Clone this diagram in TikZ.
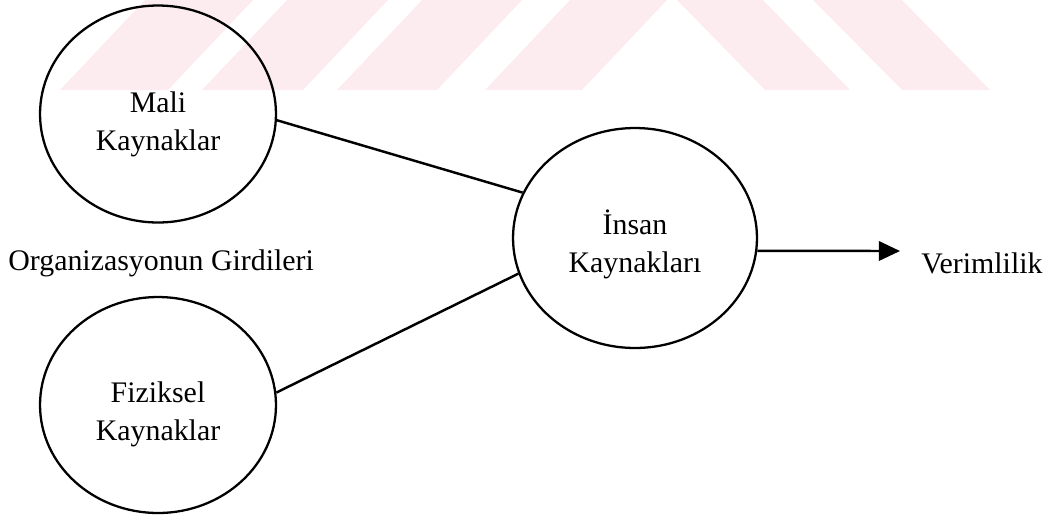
\documentclass[tikz,border=0pt]{standalone}
\usepackage{fontspec}
\setmainfont{Liberation Serif}
\usetikzlibrary{shapes.geometric,arrows.meta}
\definecolor{filigran}{RGB}{252,236,239}
\begin{document}
\begin{tikzpicture}[x=0.02cm,y=-0.02cm,
	kaynak/.style={draw,ellipse,line width=1.3pt,inner sep=0pt},
	yazi/.style={align=center,font=\fontsize{17}{21.6}\selectfont,inner sep=0pt},
	cizgi/.style={line width=1.4pt}]
\useasboundingbox (0,0) rectangle (1064,515);
		%Filigran
	\fill[filigran] (145,0) -- (253,0) -- (168,90) -- (60,90) -- cycle;
	\fill[filigran] (287,0) -- (388,0) -- (303,90) -- (202,90) -- cycle;
	\fill[filigran] (422,0) -- (522,0) -- (437,90) -- (337,90) -- cycle;
	\fill[filigran] (570,0) -- (667,0) -- (582,90) -- (485,90) -- cycle;
	\fill[filigran] (677,0) -- (763,0) -- (850,90) -- (765,90) -- cycle;
	\fill[filigran] (813,0) -- (902,0) -- (990,90) -- (902,90) -- cycle;
		%Girdiler
	\node[kaynak,minimum width=4.72cm,minimum height=4.34cm] (mali) at (158,114) {}; %Mali kaynaklar
	\node[yazi] (malit) at ([yshift=-0.2cm]mali.center) {Mali\\Kaynaklar};
	\node[kaynak,minimum width=4.72cm,minimum height=4.32cm] (fizik) at (158,405) {}; %Fiziksel kaynaklar
	\node[yazi] (fizikt) at ([yshift=-0.18cm]fizik.center) {Fiziksel\\Kaynaklar};
	\node[yazi,anchor=base west] (girdi) at (8,270) {Organizasyonun Girdileri};
		%İnsan kaynakları
	\node[kaynak,minimum width=4.88cm,minimum height=4.4cm] (insan) at (635,238) {};
	\node[yazi] (insant) at ([yshift=-0.13cm]insan.center) {İnsan\\Kaynakları};
		%Bağlantılar
	\draw[cizgi] (mali.-3) -- (insan.158);
	\draw[cizgi] (fizik.6) -- (insan.197);
		%Çıktı
	\coordinate (uc) at (900,251);
	\draw[cizgi,-{Triangle[length=12pt,width=11pt]}] (insan.-6) -- (uc);
	\node[yazi,anchor=base west] (verim) at (921,273) {Verimlilik};
\end{tikzpicture}
\end{document}
